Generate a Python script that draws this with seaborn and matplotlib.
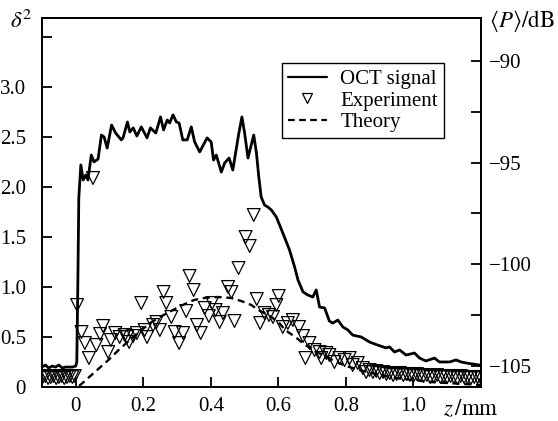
import matplotlib
matplotlib.use("Agg")
import matplotlib.pyplot as plt
import seaborn as sns
import pandas as pd
from matplotlib.lines import Line2D

# ---------------- data ----------------
# OCT signal (right axis, dB)
oct_z = [-0.10, -0.09, -0.08, -0.07, -0.06, -0.05, -0.04, -0.03, -0.02, -0.01, 0.000, 0.003, 0.006,
         0.009, 0.015, 0.022, 0.030, 0.036, 0.046, 0.054, 0.066, 0.076, 0.084, 0.093, 0.106, 0.118,
         0.135, 0.140, 0.153, 0.160, 0.170, 0.181, 0.194, 0.211, 0.221, 0.237, 0.251, 0.260, 0.271,
         0.278, 0.288, 0.298, 0.306, 0.317, 0.330, 0.342, 0.352, 0.367, 0.389, 0.401, 0.408, 0.416,
         0.431, 0.441, 0.454, 0.465, 0.483, 0.492, 0.500, 0.510, 0.527, 0.535, 0.542, 0.549, 0.559,
         0.569, 0.579, 0.594, 0.613, 0.633, 0.648, 0.658, 0.673, 0.687, 0.702, 0.712, 0.722, 0.737,
         0.751, 0.761, 0.776, 0.791, 0.806, 0.820, 0.845, 0.870, 0.894, 0.919, 0.929, 0.944, 0.959,
         0.978, 1.003, 1.018, 1.037, 1.062, 1.077, 1.107, 1.126, 1.141, 1.156, 1.175, 1.195, 1.200]
oct_db = [-105.05, -104.95, -105.10, -105.00, -105.05, -104.95, -105.10, -105.05, -105.05, -105.05,
          -105.00, -104.80, -101.12, -96.74, -95.12, -95.86, -95.61, -95.86, -94.63, -94.97, -94.83,
          -93.65, -93.75, -94.29, -93.16, -93.55, -93.89, -93.79, -93.01, -93.50, -93.30, -93.70,
          -93.25, -93.79, -93.30, -93.55, -92.76, -93.40, -92.91, -93.06, -92.66, -93.01, -93.06,
          -93.89, -93.89, -93.25, -93.99, -94.48, -93.79, -93.99, -94.88, -94.63, -95.47, -95.02,
          -94.78, -95.37, -93.55, -92.76, -93.55, -94.78, -93.65, -94.53, -95.71, -96.69, -97.09,
          -97.19, -97.33, -97.68, -98.46, -99.30, -100.13, -100.77, -101.36, -101.51, -101.61,
          -101.26, -102.10, -102.15, -102.79, -102.89, -102.74, -103.08, -103.23, -103.48, -103.57,
          -103.82, -103.97, -104.11, -104.06, -104.31, -104.21, -104.46, -104.36, -104.61, -104.75,
          -104.61, -104.80, -104.80, -104.70, -104.80, -104.85, -104.90, -104.95, -105.00]

# Experiment (left axis, delta^2)
exp_z = [-0.098, -0.090, -0.082, -0.074, -0.066, -0.058, -0.050, -0.042, -0.034, -0.026, -0.018,
         -0.010, -0.003,
         0.004, 0.017, 0.027, 0.039, 0.051, 0.061, 0.072, 0.081, 0.096, 0.104, 0.117, 0.130, 0.145,
         0.152, 0.158, 0.170, 0.181, 0.194, 0.204, 0.211, 0.229, 0.239, 0.249, 0.260, 0.268, 0.283,
         0.293, 0.306, 0.318, 0.327, 0.337, 0.349, 0.359, 0.370, 0.382, 0.394, 0.404, 0.414, 0.426,
         0.436, 0.451, 0.461, 0.470, 0.482, 0.503, 0.515, 0.527, 0.536, 0.546, 0.559, 0.572, 0.584,
         0.594, 0.601, 0.613, 0.628, 0.643, 0.661, 0.673, 0.680, 0.692, 0.707, 0.722, 0.727, 0.742,
         0.751, 0.766, 0.781, 0.796, 0.811, 0.820, 0.835, 0.850, 0.860, 0.870, 0.880,
         0.89, 0.90, 0.91, 0.92, 0.93, 0.94, 0.95, 0.96, 0.97, 0.98, 0.99, 1.00, 1.01, 1.02, 1.03,
         1.04, 1.05, 1.06, 1.07, 1.08, 1.09, 1.10, 1.11, 1.12, 1.13, 1.14, 1.15, 1.16, 1.17, 1.18,
         1.19, 1.20]
exp_d2 = [0.10, 0.11, 0.09, 0.10, 0.11, 0.09, 0.10, 0.11, 0.09, 0.10, 0.11, 0.10, 0.11,
          0.82, 0.55, 0.44, 0.29, 2.09, 0.42, 0.53, 0.61, 0.35, 0.47, 0.54, 0.50, 0.52,
          0.50, 0.45, 0.51, 0.54, 0.84, 0.57, 0.50, 0.62, 0.65, 0.57, 0.95, 0.84, 0.70,
          0.55, 0.44, 0.54, 0.76, 1.11, 0.97, 0.62, 0.54, 0.79, 0.71, 0.84, 0.77, 0.65,
          0.74, 1.00, 0.95, 0.66, 1.19, 1.50, 1.41, 1.72, 0.88, 0.64, 0.74, 0.72, 0.70,
          0.82, 0.91, 0.60, 0.64, 0.67, 0.60, 0.51, 0.29, 0.44, 0.37, 0.35, 0.29, 0.34,
          0.32, 0.25, 0.29, 0.27, 0.29, 0.22, 0.24, 0.19, 0.15, 0.17, 0.15,
          0.16, 0.14, 0.15, 0.13, 0.14, 0.12, 0.13, 0.14, 0.12, 0.13, 0.12, 0.11, 0.13, 0.12, 0.11,
          0.12, 0.10, 0.11, 0.12, 0.10, 0.11, 0.10, 0.11, 0.10, 0.09, 0.11, 0.10, 0.10, 0.09, 0.10,
          0.10, 0.09]

# Theory (left axis, delta^2)
theory_z = [0.01, 0.03, 0.07, 0.10, 0.13, 0.17, 0.22, 0.26, 0.31, 0.35, 0.38, 0.42, 0.46, 0.49,
            0.52, 0.54, 0.57, 0.60, 0.62, 0.65, 0.68, 0.72, 0.76, 0.80, 0.85, 0.90, 0.95, 1.00,
            1.05, 1.10, 1.15, 1.20]
theory_d2 = [0.01, 0.07, 0.19, 0.28, 0.38, 0.50, 0.64, 0.72, 0.81, 0.87, 0.89, 0.90, 0.89, 0.86,
             0.82, 0.77, 0.72, 0.65, 0.57, 0.50, 0.42, 0.34, 0.27, 0.21, 0.16, 0.12, 0.09, 0.07,
             0.05, 0.04, 0.03, 0.02]

x_ticks = [0, 0.2, 0.4, 0.6, 0.8, 1.0]
x_tick_labels = ["0", "0.2", "0.4", "0.6", "0.8", "1.0"]
left_ticks = [0, 0.5, 1.0, 1.5, 2.0, 2.5, 3.0, 3.5]
left_tick_labels = ["0", "0.5", "1.0", "1.5", "2.0", "2.5", "3.0", ""]
right_ticks = [-105, -102.5, -100, -97.5, -95, -92.5, -90]
right_tick_labels = ["\u2212105", "", "\u2212100", "", "\u221295", "", "\u221290"]
legend_labels = ["OCT signal", "Experiment", "Theory"]

# ---------------- style ----------------
sns.set_style("white")
plt.rcParams["font.family"] = ["Liberation Serif", "DejaVu Serif"]
plt.rcParams["mathtext.fontset"] = "stix"
plt.rcParams["axes.edgecolor"] = "black"
plt.rcParams["text.color"] = "black"
plt.rcParams["xtick.color"] = "black"
plt.rcParams["ytick.color"] = "black"
plt.rcParams["axes.linewidth"] = 1.3

FS = 15
LFS = 16.5
fig = plt.figure(figsize=(5.58, 4.21), dpi=100)
ax = fig.add_axes([42 / 558, 1 - 387 / 421, (481 - 42) / 558, (387 - 18) / 421])
ax2 = ax.twinx()

df_exp = pd.DataFrame({"z": exp_z, "d2": exp_d2})
df_th = pd.DataFrame({"z": theory_z, "d2": theory_d2})
df_oct = pd.DataFrame({"z": oct_z, "db": oct_db})

sns.lineplot(data=df_th, x="z", y="d2", ax=ax, color="black", lw=1.7,
             linestyle=(0, (3, 2)), estimator=None, sort=False, legend=False)
sns.scatterplot(data=df_exp, x="z", y="d2", ax=ax, marker="v", s=85, color="black",
                facecolors="none", edgecolors="black", linewidth=0.9, legend=False, zorder=3)
sns.lineplot(data=df_oct, x="z", y="db", ax=ax2, color="black", lw=2.0,
             estimator=None, sort=False, legend=False)

ax.set_xlim(-0.10, 1.20)
ax.set_ylim(0, 3.69)
ax2.set_ylim(-106.03, -87.90)

ax.set_xticks(x_ticks)
ax.set_xticklabels(x_tick_labels)
ax.set_yticks(left_ticks)
ax.set_yticklabels(left_tick_labels)
ax2.set_yticks(right_ticks)
ax2.set_yticklabels(right_tick_labels)

for a in (ax, ax2):
    a.set_xlabel("")
    a.set_ylabel("")
    for s in a.spines.values():
        s.set_visible(True)
        s.set_color("black")
        s.set_linewidth(1.3)

ax.tick_params(axis="y", direction="in", length=7, width=1.3, labelsize=FS, pad=11.5,
               left=True, right=False)
ax.tick_params(axis="x", direction="in", length=7, width=1.3, labelsize=FS, pad=7,
               bottom=True, top=False)
ax2.tick_params(axis="y", direction="in", length=7, width=1.3, labelsize=FS, pad=5.5,
                right=True, left=False)

fig.text(21 / 558, 1 - 21 / 421, r"$\delta^2$", fontsize=LFS, ha="center", va="center")
fig.text(489 / 558, 1 - 21 / 421, r"$\langle P\rangle/\mathrm{dB}$", fontsize=LFS,
         ha="left", va="center")
fig.text(443 / 558, 1 - 410 / 421, r"$z\,/\mathrm{mm}$", fontsize=LFS, ha="left", va="center")

handles = [
    Line2D([], [], color="black", lw=1.6),
    Line2D([], [], color="black", marker="v", markersize=6.5, markerfacecolor="none",
           markeredgecolor="black", markeredgewidth=0.9, linestyle="none"),
    Line2D([], [], color="black", lw=1.6, linestyle=(0, (3, 2))),
]
leg = ax2.legend(handles, legend_labels, loc="upper right", bbox_to_anchor=(0.916, 0.878),
                 borderaxespad=0, frameon=True, fancybox=False, edgecolor="black",
                 framealpha=1, fontsize=FS, handlelength=1.85, handletextpad=0.65,
                 labelspacing=0.1, borderpad=0.3)
leg.get_frame().set_linewidth(1.0)

fig.savefig("out.png", dpi=100)
